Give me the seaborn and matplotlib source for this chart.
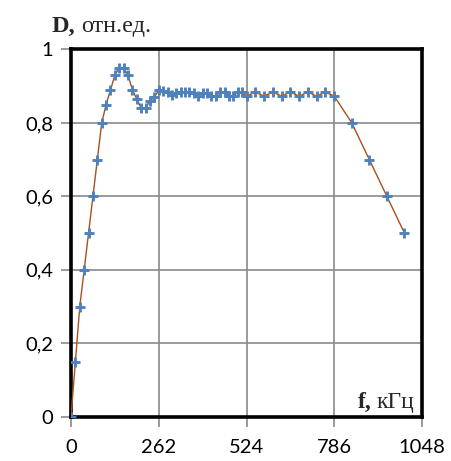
import matplotlib
matplotlib.use("Agg")
import matplotlib.pyplot as plt
import seaborn as sns
import pandas as pd

f_khz = [0, 13.1, 26.2, 39.3, 52.4, 65.5, 78.6, 91.7, 104.8, 117.9,
         131.0, 144.1, 157.2, 170.3, 183.4, 196.5, 209.6, 222.7, 235.8, 248.9,
         262.0, 275.1, 288.2, 301.3, 314.4, 327.5, 340.6, 353.7, 366.8, 379.9,
         393.0, 406.1, 419.2, 432.3, 445.4, 458.5, 471.6, 484.7, 497.8, 510.9,
         524.0, 550.2, 576.4, 602.6, 628.8, 655.0, 681.2, 707.4, 733.6, 759.8,
         786.0, 838.4, 890.8, 943.2, 995.6]
d_rel = [0.0, 0.15, 0.30, 0.40, 0.50, 0.60, 0.70, 0.80, 0.85, 0.89,
         0.93, 0.95, 0.95, 0.93, 0.89, 0.865, 0.84, 0.84, 0.86, 0.87,
         0.89, 0.888, 0.884, 0.877, 0.882, 0.885, 0.885, 0.885, 0.882, 0.874,
         0.882, 0.882, 0.873, 0.873, 0.884, 0.884, 0.873, 0.873, 0.884, 0.884,
         0.873, 0.884, 0.873, 0.884, 0.873, 0.884, 0.873, 0.884, 0.873, 0.884,
         0.873, 0.80, 0.70, 0.60, 0.50]
x_ticks = [0, 262, 524, 786, 1048]
y_ticks = [0, 0.2, 0.4, 0.6, 0.8, 1.0]
y_tick_labels = ["0", "0,2", "0,4", "0,6", "0,8", "1"]

df = pd.DataFrame({"f": f_khz, "D": d_rel})

sns.set_style("white")
plt.rcParams['font.family'] = ['Lato', 'DejaVu Sans']

fig = plt.figure(figsize=(4.51, 4.61), dpi=100)
ax = fig.add_axes([71/451, 44.3/461, 351/451, 367.2/461])

sns.lineplot(data=df, x="f", y="D", ax=ax, color="#A5521B", linewidth=1.0,
             marker="+", markersize=6.5, markeredgewidth=2.1,
             markeredgecolor="#4F81BD", markerfacecolor="#4F81BD", sort=False,
             zorder=5)

ax.set_xlim(0, 1048)
ax.set_ylim(0, 1.0)
ax.set_xticks(x_ticks)
ax.set_yticks(y_ticks)
ax.set_yticklabels(y_tick_labels)
ax.grid(True, color="#8a8a8a", linewidth=1.2)
ax.set_axisbelow(True)
ax.tick_params(axis="both", which="both", direction="out", length=7,
               width=1.2, color="#8a8a8a", labelsize=14.5, pad=6,
               labelcolor="black", left=True, bottom=True)
ax.tick_params(axis="x", pad=9)
for s in ax.spines.values():
    s.set_visible(True)
    s.set_color("black")
    s.set_linewidth(2.6)
ax.set_xlabel("")
ax.set_ylabel("")

# axis titles
serif = ['Liberation Serif', 'DejaVu Serif']
fig.canvas.draw()
r = fig.canvas.get_renderer()
t1 = fig.text(52/451, 1 - 31.7/461, "D,", family=serif, fontweight="bold",
              fontsize=17.5, va="baseline", ha="left")
bb = t1.get_window_extent(renderer=r)
fig.text((bb.x1 + 5) / 451, 1 - 31.7/461, "отн.ед.", family=serif,
         fontsize=17.5, va="baseline", ha="left")

t2 = fig.text(414/451, 1 - 408/461, "кГц", family=serif, fontsize=17,
              va="baseline", ha="right")
bb2 = t2.get_window_extent(renderer=r)
fig.text((bb2.x0 - 5) / 451, 1 - 408/461, "f,", family=serif,
         fontweight="bold", fontsize=17, va="baseline", ha="right")

fig.savefig("out.png", dpi=100)
